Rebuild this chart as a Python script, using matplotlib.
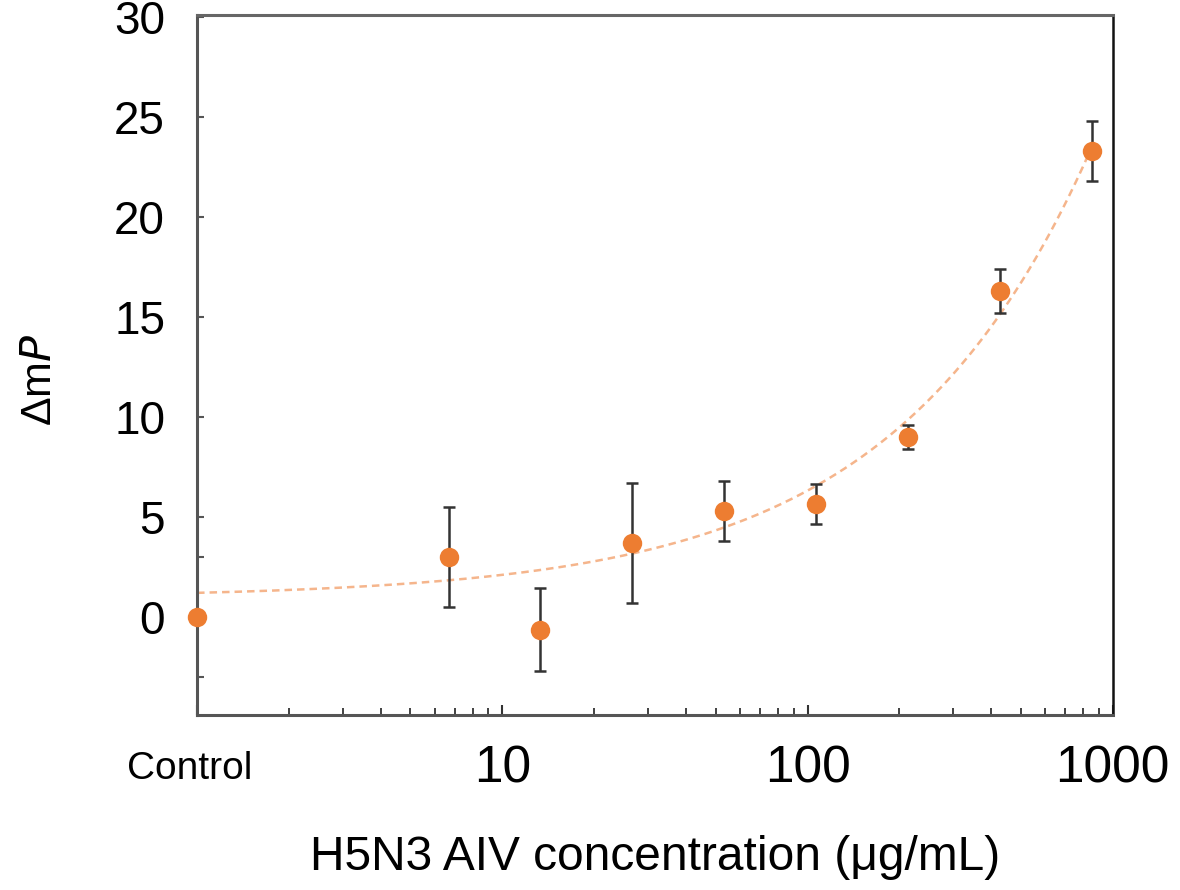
import numpy as np
import matplotlib
matplotlib.use("Agg")
import matplotlib.pyplot as plt
import matplotlib.transforms as mtransforms
from matplotlib.ticker import LogLocator, NullFormatter

plt.rcParams['font.family'] = ['Liberation Sans', 'DejaVu Sans']

# concentration in ug/mL (control plotted at 1)
conc = [1, 6.67, 13.3, 26.7, 53.3, 106.7, 213.3, 426.7, 853.3]
dmp = [0.0, 3.0, -0.65, 3.7, 5.3, 5.65, 9.0, 16.3, 23.3]
err = [0.0, 2.5, 2.07, 3.0, 1.5, 1.0, 0.6, 1.1, 1.5]

# trend line y = a + b * x**c, parameters
fit_a, fit_b, fit_c = 0.95, 0.245, 0.67

x_ticks = [1, 10, 100, 1000]
x_ticklabels = ['Control', '10', '100', '1000']
y_ticks = [0, 5, 10, 15, 20, 25, 30]

orange = '#ED7D31'

fig = plt.figure(figsize=(11.8, 8.9), dpi=100)
ax = fig.add_axes([0.167, 0.197, 0.776, 0.786])

xs = np.logspace(np.log10(conc[0]), np.log10(conc[-1]), 400)
ax.plot(xs, fit_a + fit_b * xs ** fit_c, ls=(0, (3, 2)), color='#F5B58C', lw=1.8, zorder=1)

ax.errorbar(conc, dmp, yerr=err, fmt='none', ecolor='#333333', elinewidth=1.8,
            capsize=4, capthick=1.8, zorder=2)
ax.plot(conc, dmp, 'o', color=orange, ms=14, mec='none', zorder=3, clip_on=False)

ax.set_xscale('log')
ax.set_xlim(1, 1000)
ax.set_ylim(-4.9, 30.1)

ax.set_xticks(x_ticks)
ax.set_xticklabels(x_ticklabels)
ax.xaxis.set_minor_locator(LogLocator(base=10, subs=np.arange(2, 10)))
ax.xaxis.set_minor_formatter(NullFormatter())
ax.set_yticks(y_ticks)
ax.set_yticklabels([str(v) for v in y_ticks])
ax.set_yticks([-3, 3], minor=True)

ax.tick_params(axis='x', which='major', direction='in', length=7, width=1.5,
               color='#333333', labelsize=37, pad=39)
ax.tick_params(axis='x', which='minor', direction='in', length=5, width=1.3,
               color='#333333')
ax.tick_params(axis='y', which='both', direction='in', length=5, width=1.5,
               color='#555555', labelsize=33, pad=23)
for lab in ax.get_xticklabels():
    lab.set_va('center')
ctrl = ax.get_xticklabels()[0]
ctrl.set_fontsize(28)
ctrl.set_transform(ctrl.get_transform() +
                   mtransforms.ScaledTranslation(-7 / 100, 0, fig.dpi_scale_trans))

for side in ['left', 'bottom']:
    ax.spines[side].set_color('#555555')
    ax.spines[side].set_linewidth(2.2)
ax.spines['top'].set_color('#666666')
ax.spines['top'].set_linewidth(2.2)
ax.spines['right'].set_color('#111111')
ax.spines['right'].set_linewidth(1.8)

fig.text(0.555, 0.037, 'H5N3 AIV concentration (\u03bcg/mL)', ha='center', va='center',
         fontsize=34.5)
fig.text(0.034, 0.573, '\u0394m$\\it{P}$', ha='center', va='center', rotation=90,
         fontsize=31)

fig.savefig('out.png', dpi=100)
